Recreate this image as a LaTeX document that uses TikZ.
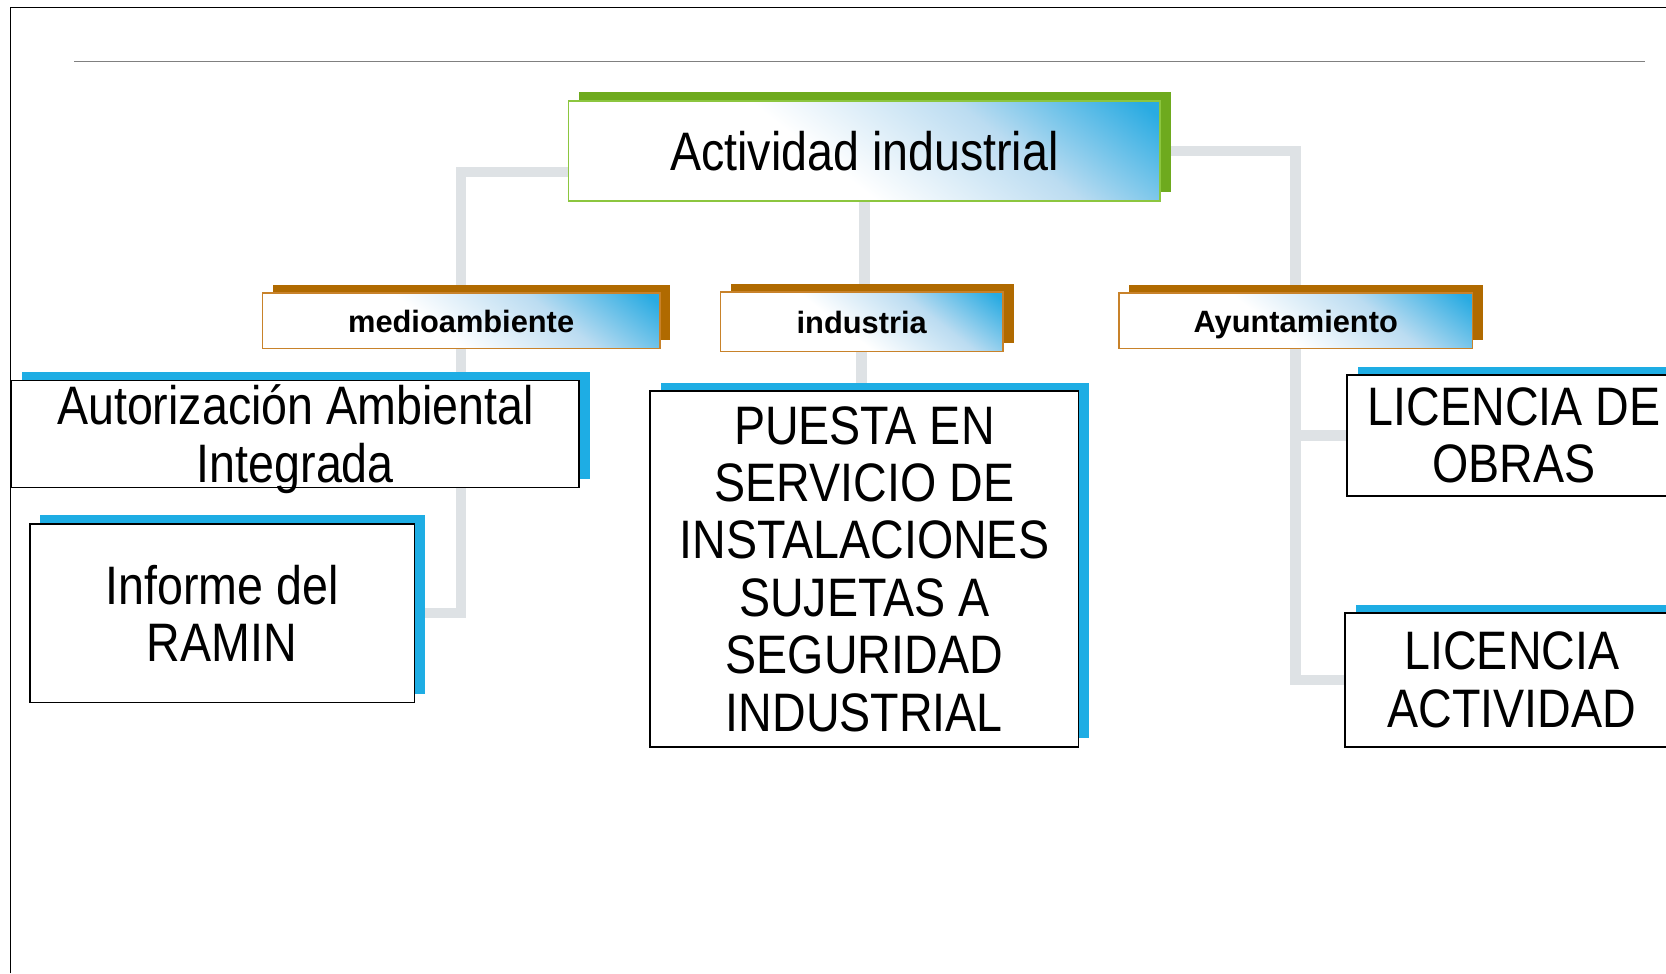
\documentclass[tikz,border=0pt]{standalone}
\usepackage{fontspec}
\setmainfont{Liberation Sans}[FakeStretch=0.86]
\newfontfamily\labelfont{Liberation Sans}
\usepackage{tikz}
\usetikzlibrary{shadows}
\usetikzlibrary{backgrounds}

\definecolor{gradblue}{HTML}{29ABE2}
\definecolor{gradlight}{HTML}{BBDCF1}
\definecolor{topgreen}{HTML}{8CC63F}
\definecolor{topshadow}{HTML}{6EAA1E}
\definecolor{headbrown}{HTML}{C8822A}
\definecolor{headshadow}{HTML}{B06A00}
\definecolor{leafblue}{HTML}{1EADE4}
\definecolor{conngray}{HTML}{DEE2E5}
\definecolor{rulegray}{HTML}{808080}
\pgfdeclarehorizontalshading{bluegrad}{100bp}{color(0bp)=(white); color(45bp)=(white); color(65bp)=(gradlight); color(83bp)=(gradblue); color(100bp)=(gradblue)}

\begin{document}
\begin{tikzpicture}[x=1pt,y=-1pt,line join=miter,
        conn/.style={draw=conngray,line width=10pt},
        topbox/.style={draw=topgreen,line width=1.5pt,shade,shading=bluegrad,shading angle=52,inner sep=0pt,
          general shadow={fill=topshadow,shadow xshift=10pt,shadow yshift=8pt},font=\fontsize{51}{54}\selectfont},
        headbox/.style={draw=headbrown,line width=1.5pt,shade,shading=bluegrad,shading angle=52,inner sep=0pt,
          minimum height=52pt,text height=21pt,text depth=0pt,
          general shadow={fill=headshadow,shadow xshift=10pt,shadow yshift=8pt},font=\labelfont\bfseries\fontsize{29}{32}\selectfont},
        leafbox/.style={draw=black,line width=1.5pt,fill=white,inner sep=0pt,align=center,
          general shadow={fill=leafblue,shadow xshift=10pt,shadow yshift=8pt},font=\fontsize{51}{54}\selectfont}]
        \useasboundingbox (0,0) rectangle (1568,916);
        \clip (0,0) rectangle (1568,916);
        \draw[line width=1.5pt] (10,916) -- (10,7) -- (1568,7);
        \draw[rulegray,line width=1.5pt] (70,58) -- (1548,58);
        %
        \node[topbox,minimum width=557pt,minimum height=94pt] (act) at (813.5,142) {Actividad industrial};
        %
        \node[headbox,minimum width=374pt] (med) at (434,302) {medioambiente};
        \node[headbox,minimum width=266pt,minimum height=56pt] (ind) at (811,303) {industria};
        \node[headbox,minimum width=333pt] (ayu) at (1219.5,302) {Ayuntamiento};
        %
        \node[leafbox,minimum width=534pt,minimum height=101pt] (aut) at (278,408.5) {Autorizaci\smash{ó}n Ambiental\\\raisebox{0pt}[\height][0pt]{Integrada}};
        \node[leafbox,minimum width=362pt,minimum height=168pt] (ramin) at (209,577) {Informe del\\RAMIN};
        %
        \node[leafbox,minimum width=403pt,minimum height=335pt] (puesta) at (813.5,535.5) {PUESTA EN\\SERVICIO DE\\INSTALACIONES\\SUJETAS A\\SEGURIDAD\\INDUSTRIAL};
        %
        \node[leafbox,minimum width=314pt,minimum height=114pt] (obras) at (1425,410) {LICENCIA DE\\OBRAS};
        \node[leafbox,minimum width=314pt,minimum height=126pt] (actv) at (1423,640) {LICENCIA\\ACTIVIDAD};
        %
        \begin{scope}[on background layer]
        \draw[conn] ([yshift=-20pt]act.west) -| (med.north);
        \draw[conn] (med.south) |- (ramin.east);
        \draw[conn] (act.south) -- (act.south |- ind.north);
        \draw[conn] (ind.south) -- (ind.south |- puesta.north);
        \draw[conn] (act.east) -| (ayu.north);
        \draw[conn] (ayu.south) |- (obras.west);
        \draw[conn] (ayu.south) |- (actv.west);
        \end{scope}
      \end{tikzpicture}
\end{document}
